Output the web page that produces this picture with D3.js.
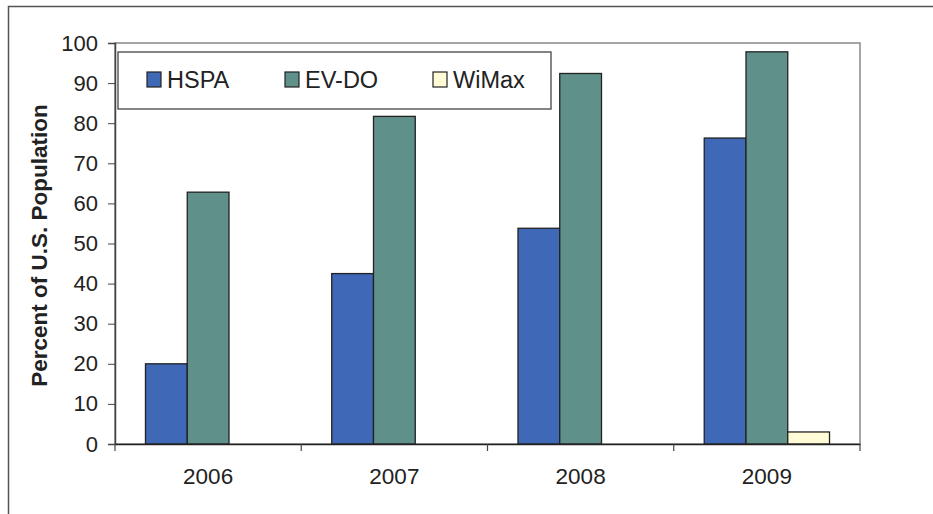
<!DOCTYPE html>
<html>
<head>
<meta charset="utf-8">
<script src="https://cdn.jsdelivr.net/npm/d3@7"></script>
<style>
  html, body { margin: 0; padding: 0; background: #fff; }
  svg { display: block; }
</style>
</head>
<body>
<div id="chart"></div>
<script>
// Coverage data
const years = ['2006', '2007', '2008', '2009'];
const seriesNames = ['HSPA', 'EV-DO', 'WiMax'];
const hspa = [20, 42.5, 53.8, 76.3];
const evdo = [62.8, 81.7, 92.4, 97.8];
const wimax = [0, 0, 0, 3];
const yTicks = [0, 10, 20, 30, 40, 50, 60, 70, 80, 90, 100];

const colors = { 'HSPA': '#3f68b6', 'EV-DO': '#5f9089', 'WiMax': '#fffbd6' };
const seriesValues = { 'HSPA': hspa, 'EV-DO': evdo, 'WiMax': wimax };

const W = 933, H = 514;
const margin = { top: 43, right: 73, bottom: 70, left: 115 };
const width = W - margin.left - margin.right;
const height = H - margin.top - margin.bottom;

const svg = d3.select('#chart').append('svg')
  .attr('width', W).attr('height', H)
  .style('font-family', 'Arial, "Liberation Sans", sans-serif');

// outer frame (open on right and bottom like the scan)
svg.append('path')
  .attr('d', `M8.5,${H} L8.5,6.5 L${W},6.5`)
  .attr('fill', 'none').attr('stroke', '#555').attr('stroke-width', 1.5);

const g = svg.append('g').attr('transform', `translate(${margin.left},${margin.top})`);

const x0 = d3.scaleBand().domain(years).range([0, width]).paddingInner(0).paddingOuter(0);
const x1 = d3.scaleBand().domain(seriesNames).range([0, x0.bandwidth()]).paddingOuter(0.73).paddingInner(0);
const y = d3.scaleLinear().domain([0, 100]).range([height, 0]);

// plot area border
g.append('rect')
  .attr('x', 0).attr('y', 0).attr('width', width).attr('height', height)
  .attr('fill', 'none').attr('stroke', '#888').attr('stroke-width', 1.5);

// bars
const rows = years.map((yr, i) => ({ year: yr, vals: seriesNames.map(s => ({ s, v: seriesValues[s][i] })) }));
const grp = g.selectAll('.yr').data(rows).enter().append('g')
  .attr('transform', d => `translate(${x0(d.year)},0)`);
grp.selectAll('rect').data(d => d.vals.filter(e => e.v > 0)).enter().append('rect')
  .attr('x', d => x1(d.s)).attr('width', x1.bandwidth())
  .attr('y', d => y(d.v)).attr('height', d => y(0) - y(d.v))
  .attr('fill', d => colors[d.s])
  .attr('stroke', '#222').attr('stroke-width', 1.3);

// y axis
const yAxis = g.append('g')
  .call(d3.axisLeft(y).tickValues(yTicks).tickSize(7).tickPadding(10));
yAxis.select('.domain').attr('stroke', '#444').attr('stroke-width', 1.5);
yAxis.selectAll('.tick line').attr('stroke', '#444');
yAxis.selectAll('.tick text').style('font-size', '22px').attr('fill', '#222');

// x axis
const xAxis = g.append('g').attr('transform', `translate(0,${height})`)
  .call(d3.axisBottom(x0).tickSize(0).tickPadding(24));
xAxis.select('.domain').attr('stroke', '#222').attr('stroke-width', 1.5);
xAxis.selectAll('.tick text').style('font-size', '22.5px').attr('fill', '#222');
// category boundary ticks
xAxis.selectAll('.sep').data(d3.range(years.length + 1)).enter().append('line')
  .attr('x1', i => i * x0.step()).attr('x2', i => i * x0.step())
  .attr('y1', 0).attr('y2', 7).attr('stroke', '#444').attr('stroke-width', 1.2);

// y title
svg.append('text')
  .attr('transform', `translate(39,${margin.top + height / 2 + 2}) rotate(-90)`)
  .attr('text-anchor', 'middle').attr('dy', '0.35em')
  .style('font-size', '22.5px').style('font-weight', 'bold').attr('fill', '#222')
  .text('Percent of U.S. Population');

// legend
const legend = svg.append('g').attr('transform', 'translate(118,52)');
legend.append('rect').attr('width', 433).attr('height', 57)
  .attr('fill', '#fff').attr('stroke', '#444').attr('stroke-width', 1.3);
const legX = [29, 167, 315];
seriesNames.forEach((s, i) => {
  const it = legend.append('g').attr('transform', `translate(${legX[i]},20)`);
  it.append('rect').attr('width', 14).attr('height', 15)
    .attr('fill', colors[s]).attr('stroke', '#222').attr('stroke-width', 1.2);
  it.append('text').attr('x', 20).attr('y', 7.5).attr('dy', '0.35em')
    .style('font-size', '23.5px').attr('fill', '#222').text(s);
});
</script>
</body>
</html>
